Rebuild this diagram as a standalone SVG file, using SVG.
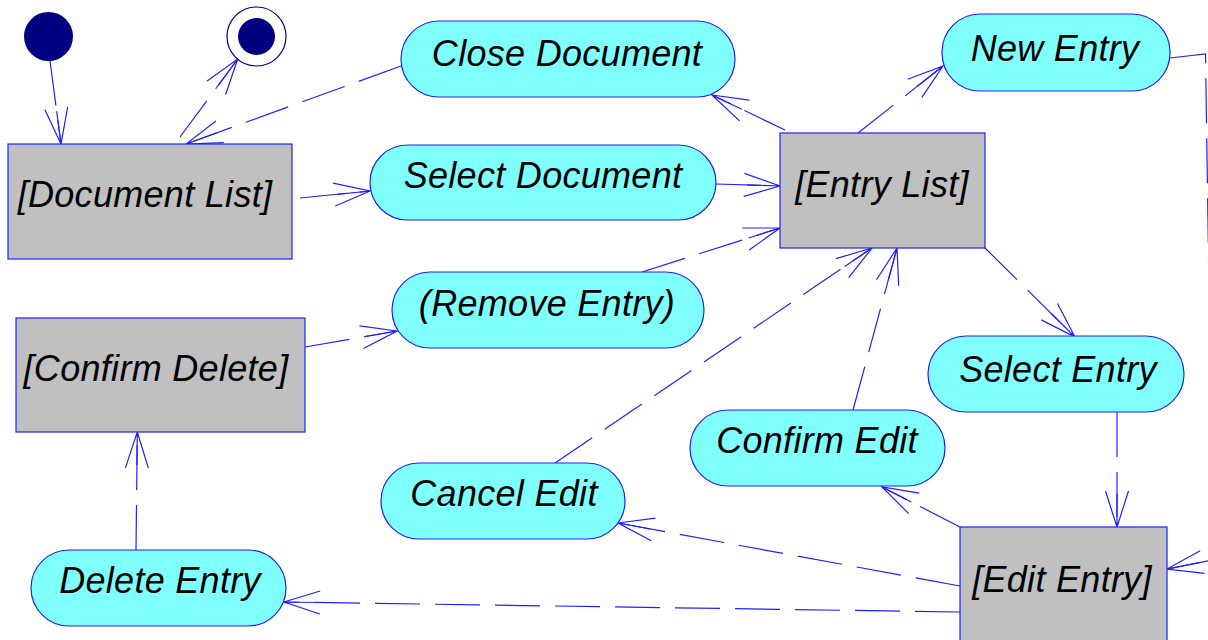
<svg xmlns="http://www.w3.org/2000/svg" width="1208" height="640" viewBox="0 0 1208 640">
<style>
.act{fill:#80ffff;stroke:#2020ff;stroke-width:1.2}
.st{fill:#c0c0c0;stroke:#2020ff;stroke-width:1.2}
.t{font-family:"Liberation Sans",Arial,sans-serif;font-style:italic;font-size:36px;fill:#000;text-anchor:middle;letter-spacing:0.3px}
.c{fill:none;stroke:#2020ff;stroke-width:1.2;stroke-dasharray:45 15;marker-end:url(#a)}
</style>
<defs>
<marker id="a" markerUnits="userSpaceOnUse" orient="auto" overflow="visible" markerWidth="1" markerHeight="1" refX="0" refY="0">
<path d="M-36,-11.5 L0,0 L-36,11.5 M-33,0 L0,0" fill="none" stroke="#2020ff" stroke-width="1.2"/>
</marker>
</defs>
<rect width="1208" height="640" fill="#fff"/>
<g id="connectors">
<path class="c" d="M50,61 L61,144"/>
<path class="c" d="M180,137 L237.7,59"/>
<path class="c" d="M401,66 L186,144"/>
<path class="c" d="M300,198 L370,191"/>
<path class="c" d="M716,184 L780,186"/>
<path class="c" d="M785,130 L712,95"/>
<path class="c" d="M858,133 L943,66"/>
<path class="c" d="M642,272 L780,228"/>
<path class="c" d="M555,463 L872,248"/>
<path class="c" d="M853,410 L897,248"/>
<path class="c" d="M985,248 L1075,337"/>
<path class="c" d="M1117,412 L1117,527"/>
<path class="c" d="M960,527 L882,487"/>
<path class="c" d="M960,586 L618,523"/>
<path class="c" d="M960,612 L284,602"/>
<path class="c" d="M305,347 L397,331"/>
<path class="c" d="M136,550 L137.3,432"/>
<path class="c" d="M1170,58 L1205.5,54 L1213,560 L1167,569"/>
</g>
<g id="initial"><circle cx="48.5" cy="36.5" r="24.5" fill="#000080"/></g>
<g id="final"><circle cx="256.5" cy="36.5" r="29.5" fill="#fff" stroke="#000080" stroke-width="1.2"/><circle cx="256.5" cy="36.5" r="18.5" fill="#000080"/></g>
<g id="documentList"><rect class="st" x="8" y="144" width="284" height="115"/><text class="t" x="145" y="207">[Document List]</text></g>
<g id="closeDocument"><rect class="act" x="401" y="21" width="334" height="76" rx="38"/><text class="t" x="567" y="66">Close Document</text></g>
<g id="selectDocument"><rect class="act" x="370" y="145" width="346" height="75" rx="37.5"/><text class="t" x="543" y="188">Select Document</text></g>
<g id="entryList"><rect class="st" x="780" y="133" width="205" height="115"/><text class="t" x="882" y="197">[Entry List]</text></g>
<g id="newEntry"><rect class="act" x="942" y="14" width="228" height="77" rx="38"/><text class="t" x="1055" y="61">New Entry</text></g>
<g id="removeEntry"><rect class="act" x="392" y="272" width="312" height="76" rx="38"/><text class="t" x="547" y="316">(Remove Entry)</text></g>
<g id="confirmDelete"><rect class="st" x="16" y="318" width="289" height="114"/><text class="t" x="156" y="381">[Confirm Delete]</text></g>
<g id="selectEntry"><rect class="act" x="928" y="336" width="256" height="76" rx="38"/><text class="t" x="1058" y="382">Select Entry</text></g>
<g id="confirmEdit"><rect class="act" x="690" y="410" width="255" height="76" rx="38"/><text class="t" x="817" y="453">Confirm Edit</text></g>
<g id="cancelEdit"><rect class="act" x="381" y="463" width="244" height="76" rx="38"/><text class="t" x="504" y="506">Cancel Edit</text></g>
<g id="deleteEntry"><rect class="act" x="31" y="550" width="255" height="76" rx="38"/><text class="t" x="160" y="593">Delete Entry</text></g>
<g id="editEntry"><rect class="st" x="960" y="527" width="207" height="130"/><text class="t" x="1062" y="592">[Edit Entry]</text></g>
</svg>
